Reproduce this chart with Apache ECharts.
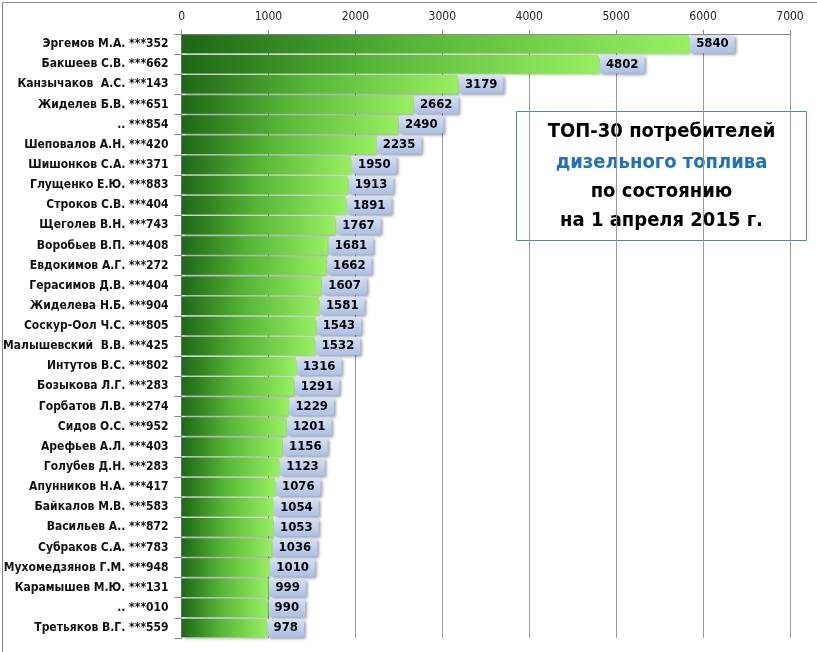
<!DOCTYPE html>
<html>
<head>
<meta charset="utf-8">
<script src="https://cdn.jsdelivr.net/npm/echarts@6/dist/echarts.min.js"></script>
<style>
html,body{margin:0;padding:0;background:#fff;}
#c{width:817px;height:652px;}
</style>
</head>
<body>
<div id="c"></div>
<script>
var categories = [
  'Эргемов М.А. ***352','Бакшеев С.В. ***662','Канзычаков  А.С. ***143','Жиделев Б.В. ***651','.. ***854',
  'Шеповалов А.Н. ***420','Шишонков С.А. ***371','Глущенко Е.Ю. ***883','Строков С.В. ***404','Щеголев В.Н. ***743',
  'Воробьев В.П. ***408','Евдокимов А.Г. ***272','Герасимов Д.В. ***404','Жиделева Н.Б. ***904','Соскур-Оол Ч.С. ***805',
  'Малышевский  В.В. ***425','Интутов В.С. ***802','Бозыкова Л.Г. ***283','Горбатов Л.В. ***274','Сидов О.С. ***952',
  'Арефьев А.Л. ***403','Голубев Д.Н. ***283','Апунников Н.А. ***417','Байкалов М.В. ***583','Васильев А.. ***872',
  'Субраков С.А. ***783','Мухомедзянов Г.М. ***948','Карамышев М.Ю. ***131','.. ***010','Третьяков В.Г. ***559'
];
var values = [5840,4802,3179,2662,2490,2235,1950,1913,1891,1767,1681,1662,1607,1581,1543,1532,1316,1291,1229,1201,1156,1123,1076,1054,1053,1036,1010,999,990,978];
var tickValues = [0,1000,2000,3000,4000,5000,6000,7000];
var titleLines = ['ТОП-30 потребителей','дизельного топлива','по состоянию','на 1 апреля 2015 г.'];

var chart = echarts.init(document.getElementById('c'));
var FONT = 'Tahoma, "DejaVu Sans Condensed", "DejaVu Sans", sans-serif';
chart.setOption({
  animation: false,
  backgroundColor: '#fff',
  grid: {left: 180, right: 27, top: 34, bottom: 14, containLabel: false},
  xAxis: {
    type: 'value', position: 'top', min: tickValues[0], max: tickValues[tickValues.length-1], interval: 1000,
    axisLine: {show: true, lineStyle: {color: '#888'}},
    axisTick: {show: true, length: 4, lineStyle: {color: '#888'}},
    splitLine: {show: true, lineStyle: {color: '#999', width: 1}},
    axisLabel: {color: '#222', fontSize: 12, fontFamily: FONT, margin: 11,
      formatter: function (v) { return String(v); }}
  },
  yAxis: {
    type: 'category', data: categories, inverse: true,
    axisLine: {show: true, lineStyle: {color: '#888'}},
    axisTick: {show: true, length: 7, lineStyle: {color: '#888'}},
    axisLabel: {color: '#111', fontSize: 12, fontWeight: 'bold', fontFamily: FONT, margin: 13}
  },
  series: [{
    type: 'bar', data: values, barCategoryGap: '8%',
    itemStyle: {
      color: new echarts.graphic.LinearGradient(0,0,1,0,[
        {offset: 0, color: '#1c6814'},
        {offset: 0.45, color: '#55b535'},
        {offset: 1, color: '#96f060'}
      ]),
      shadowColor: 'rgba(0,0,0,0.35)', shadowBlur: 3, shadowOffsetX: 2, shadowOffsetY: 2
    },
    label: {
      show: true, position: 'right', distance: 1,
      color: '#000', fontWeight: 'bold', fontSize: 13, fontFamily: FONT,
      padding: [3,6,2,6],
      backgroundColor: new echarts.graphic.LinearGradient(0,0,0,1,[
        {offset: 0, color: '#d6e2f5'},
        {offset: 1, color: '#a9c0e6'}
      ]),
      borderRadius: 2,
      shadowColor: 'rgba(0,0,0,0.35)', shadowBlur: 3, shadowOffsetX: 2, shadowOffsetY: 2
    }
  }],
  graphic: [
    {type: 'rect', left: 0, top: 0, shape: {x: 0.5, y: 0.5, width: 816, height: 651},
     style: {fill: 'none', stroke: '#888', lineWidth: 1}, silent: true},
    {type: 'group', left: 516, top: 111, children: [
      {type: 'rect', shape: {x: 0, y: 0, width: 290, height: 129},
       style: {fill: '#fff', stroke: '#4f81bd', lineWidth: 1}},
      {type: 'text', x: 145, y: 20, style: {text: titleLines[0], fill: '#000', font: 'bold 20px ' + FONT, align: 'center', verticalAlign: 'middle'}},
      {type: 'text', x: 145, y: 51, style: {text: titleLines[1], fill: '#1f70c1', font: 'bold 20px ' + FONT, align: 'center', verticalAlign: 'middle'}},
      {type: 'text', x: 145, y: 80, style: {text: titleLines[2], fill: '#000', font: 'bold 20px ' + FONT, align: 'center', verticalAlign: 'middle'}},
      {type: 'text', x: 145, y: 109, style: {text: titleLines[3], fill: '#000', font: 'bold 20px ' + FONT, align: 'center', verticalAlign: 'middle'}}
    ]}
  ]
});
</script>
</body>
</html>
